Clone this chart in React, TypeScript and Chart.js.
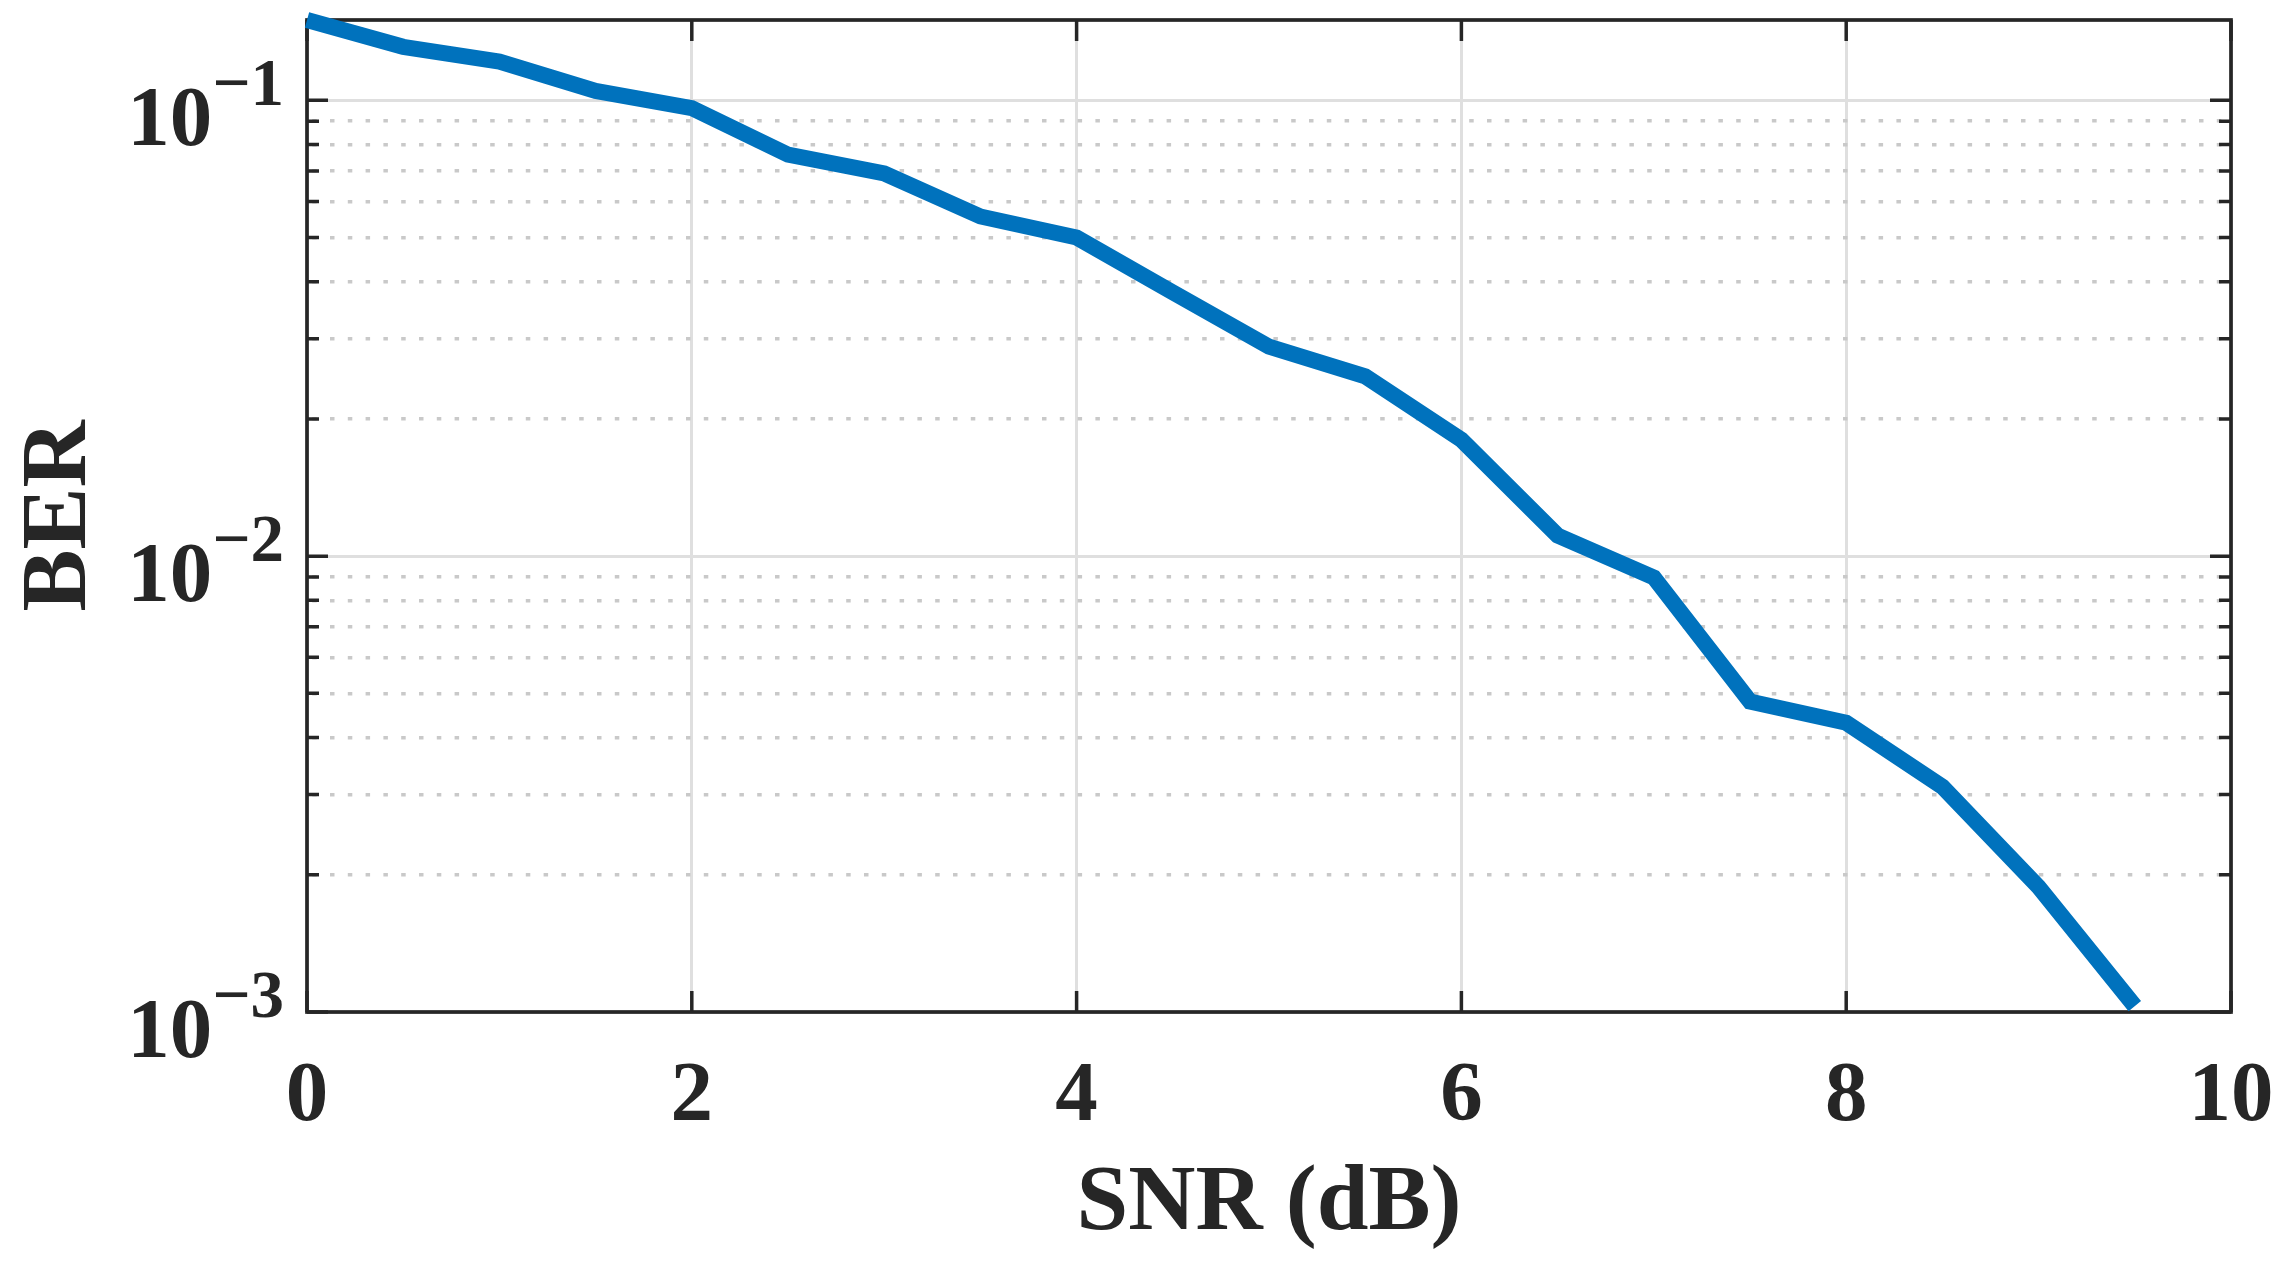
import React, { useEffect, useRef } from 'react';
import { Chart, registerables } from 'chart.js';

Chart.register(...registerables);

// ---- data ----
const snrDb = [0, 0.5, 1, 1.5, 2, 2.5, 3, 3.5, 4, 4.5, 5, 5.5, 6, 6.5, 7, 7.5, 8, 8.5, 9, 9.5];
const ber = [
  0.150, 0.131, 0.1216, 0.1048, 0.0961, 0.0760, 0.0691, 0.0556, 0.0500, 0.0379,
  0.0288, 0.0248, 0.0180, 0.0111, 0.00898, 0.00480, 0.00431, 0.00312, 0.00188, 0.00103,
];

// ---- axes ----
const xTickValues = [0, 2, 4, 6, 8, 10];
const xTickLabels = ['0', '2', '4', '6', '8', '10'];
const yMajorTicks = [0.001, 0.01, 0.1];
const yTickBases = ['10', '10', '10'];
const yTickExponents = ['\u22123', '\u22122', '\u22121'];
const yMinorTicks = [
  0.002, 0.003, 0.004, 0.005, 0.006, 0.007, 0.008, 0.009,
  0.02, 0.03, 0.04, 0.05, 0.06, 0.07, 0.08, 0.09,
];
const xTitle = 'SNR (dB)';
const yTitle = 'BER';

const W = 2284;
const H = 1264;
const AREA = { left: 307, top: 20, right: 2231, bottom: 1012 };
const INK = '#262626';
const LINE_BLUE = '#0072BD';
const MAJOR_GRID = '#DFDFDF';
const MINOR_GRID = '#C9C9C9';
const FONT = '"Liberation Serif", "Times New Roman", serif';

const axesPlugin = {
  id: 'matlabAxes',
  beforeDatasetsDraw(chart: any) {
    const { ctx, chartArea: a, scales } = chart;
    const xs = scales.x;
    const ys = scales.y;
    ctx.save();
    ctx.strokeStyle = INK;
    ctx.lineCap = 'butt';
    ctx.lineWidth = 3.5;
    ctx.beginPath();
    for (const v of xTickValues) {
      const px = xs.getPixelForValue(v);
      ctx.moveTo(px, a.bottom);
      ctx.lineTo(px, a.bottom - 21);
      ctx.moveTo(px, a.top);
      ctx.lineTo(px, a.top + 21);
    }
    for (const v of yMajorTicks) {
      const py = ys.getPixelForValue(v);
      ctx.moveTo(a.left, py);
      ctx.lineTo(a.left + 21, py);
      ctx.moveTo(a.right, py);
      ctx.lineTo(a.right - 21, py);
    }
    for (const v of yMinorTicks) {
      const py = ys.getPixelForValue(v);
      ctx.moveTo(a.left, py);
      ctx.lineTo(a.left + 12, py);
      ctx.moveTo(a.right, py);
      ctx.lineTo(a.right - 12, py);
    }
    ctx.stroke();
    ctx.lineWidth = 3.7;
    ctx.strokeRect(a.left, a.top, a.right - a.left, a.bottom - a.top);
    ctx.restore();
  },
  afterDraw(chart: any) {
    const { ctx, chartArea: a, scales } = chart;
    const xs = scales.x;
    const ys = scales.y;
    ctx.save();
    ctx.fillStyle = INK;
    // x tick labels
    ctx.font = `bold 85px ${FONT}`;
    ctx.textAlign = 'center';
    ctx.textBaseline = 'alphabetic';
    xTickValues.forEach((v, i) => {
      ctx.fillText(xTickLabels[i], xs.getPixelForValue(v), a.bottom + 108);
    });
    // y tick labels with superscripts
    const supRight = a.left - 23;
    yMajorTicks.forEach((v, i) => {
      const py = ys.getPixelForValue(v);
      ctx.font = `bold 67px ${FONT}`;
      ctx.textAlign = 'right';
      const supW = ctx.measureText(yTickExponents[i]).width;
      ctx.fillText(yTickExponents[i], supRight, py + 5);
      ctx.font = `bold 85px ${FONT}`;
      ctx.fillText(yTickBases[i], supRight - supW, py + 45);
    });
    // axis titles
    ctx.font = `bold 93px ${FONT}`;
    ctx.textAlign = 'center';
    ctx.fillText(xTitle, (a.left + a.right) / 2, a.bottom + 217);
    ctx.translate(85, (a.top + a.bottom) / 2);
    ctx.rotate(-Math.PI / 2);
    ctx.fillText(yTitle, 0, 0);
    ctx.restore();
  },
};

export default function App() {
  const canvasRef = useRef<HTMLCanvasElement | null>(null);

  useEffect(() => {
    document.body.style.margin = '0';
    const canvas = canvasRef.current;
    if (!canvas) return;
    const chart = new Chart(canvas, {
      type: 'line',
      data: {
        datasets: [
          {
            data: snrDb.map((s, i) => ({ x: s, y: ber[i] })),
            borderColor: LINE_BLUE,
            backgroundColor: LINE_BLUE,
            borderWidth: 16,
            borderCapStyle: 'butt',
            borderJoinStyle: 'miter',
            pointRadius: 0,
            tension: 0,
            fill: false,
            clip: false,
          } as any,
        ],
      },
      options: {
        responsive: false,
        maintainAspectRatio: false,
        animation: false,
        devicePixelRatio: 1,
        layout: {
          padding: { left: AREA.left, top: AREA.top, right: W - AREA.right, bottom: H - AREA.bottom },
        },
        plugins: {
          legend: { display: false },
          tooltip: { enabled: false },
        },
        scales: {
          x: {
            type: 'linear',
            min: 0,
            max: 10,
            afterFit: (s: any) => {
              s.height = 0;
            },
            afterBuildTicks: (s: any) => {
              s.ticks = xTickValues.map((v) => ({ value: v }));
            },
            ticks: { display: false, autoSkip: false },
            grid: { color: MAJOR_GRID, lineWidth: 3, drawTicks: false },
            border: { display: false },
          },
          y: {
            type: 'logarithmic',
            min: 0.001,
            max: 0.15,
            afterFit: (s: any) => {
              s.width = 0;
            },
            afterBuildTicks: (s: any) => {
              const all = [...yMinorTicks, ...yMajorTicks].sort((p, q) => p - q);
              s.ticks = all.map((v) => ({ value: v, major: yMajorTicks.includes(v) }));
            },
            ticks: { display: false, autoSkip: false },
            grid: {
              drawTicks: false,
              color: (c: any) => (c.tick && c.tick.major ? MAJOR_GRID : MINOR_GRID),
              lineWidth: (c: any) => (c.tick && c.tick.major ? 3 : 3.5),
            },
            border: {
              display: false,
              dash: (c: any) => (c.tick && c.tick.major ? [] : [4.5, 13.3]),
              dashOffset: 12.6,
            },
          },
        },
      } as any,
      plugins: [axesPlugin],
    });
    return () => chart.destroy();
  }, []);

  return (
    <div style={{ position: 'fixed', left: 0, top: 0, width: W, height: H, background: '#fff' }}>
      <canvas ref={canvasRef} width={W} height={H} style={{ display: 'block', width: W, height: H }} />
    </div>
  );
}
